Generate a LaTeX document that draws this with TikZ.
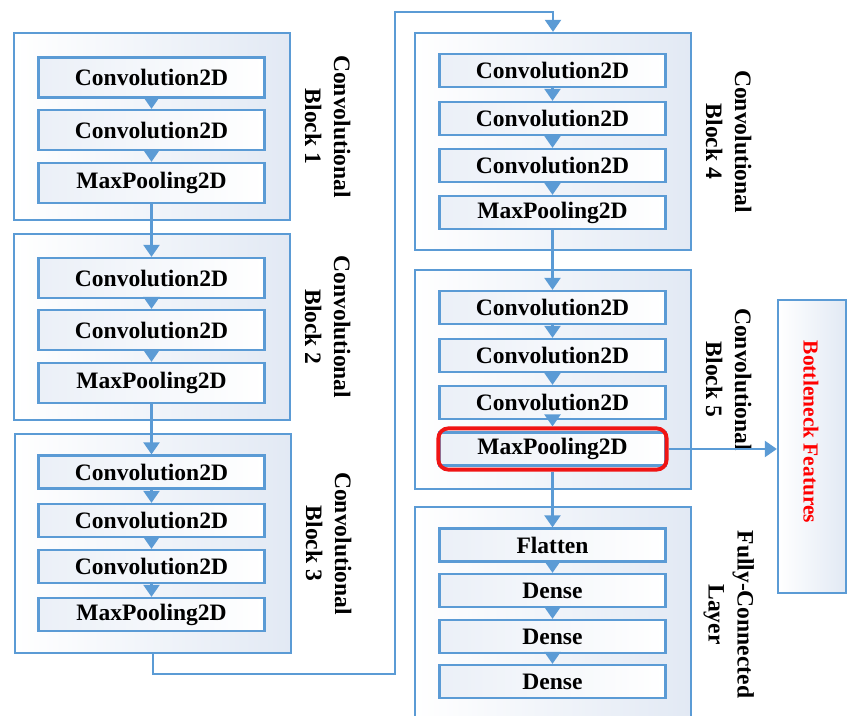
\documentclass[tikz,border=0pt]{standalone}
\usepackage{fontspec}
\setmainfont{Liberation Serif}
\usetikzlibrary{arrows.meta,positioning,fit}
\definecolor{lnBlue}{RGB}{91,155,213}
\definecolor{bgBlue}{RGB}{226,233,244}
\definecolor{hlRed}{RGB}{240,20,20}

\begin{document}
\begin{tikzpicture}[x=0.02cm,y=-0.02cm,font=\fontsize{13.4}{16.5}\selectfont\bfseries,
  blk/.style={draw=lnBlue,line width=1.3pt,left color=white,right color=bgBlue,inner sep=0pt},
  lyr/.style={draw=lnBlue,line width=1.3pt,left color=bgBlue!70,right color=white,minimum width=4.52cm,minimum height=0.66cm,inner sep=0pt},
  lbl/.style={rotate=-90,align=center},
  flow/.style={draw=lnBlue,line width=1.3pt,-{Triangle[width=0.32cm,length=0.24cm]}}]
  \useasboundingbox (0,0) rectangle (849,716);
  % outer blocks
  \node[blk,fit={(14,33)(290,220)}] (B1) {};
  \node[blk,fit={(14,234)(290,420)}] (B2) {};
  \node[blk,fit={(15,434)(291,653)}] (B3) {};
  \node[blk,fit={(415,33)(691,250)}] (B4) {};
  \node[blk,fit={(415,270)(691,489)}] (B5) {};
  \node[blk,fit={(415,507)(691,722)}] (FC) {};
  \node[blk,fit={(778,300)(846,593)}] (BN) {};
  % block labels
  \node[lbl,right=7.3mm of B1.east,anchor=center] (L1) {Convolutional\\Block 1};
  \node[lbl,right=7.3mm of B2.east,anchor=center] (L2) {Convolutional\\Block 2};
  \node[lbl,right=7.3mm of B3.east,anchor=center] (L3) {Convolutional\\Block 3};
  \node[lbl,right=7.3mm of B4.east,anchor=center] (L4) {Convolutional\\Block 4};
  \node[lbl,right=7.3mm of B5.east,anchor=center] (L5) {Convolutional\\Block 5};
  \node[lbl,right=7.3mm of FC.east,anchor=center] (L6) {Fully-Connected\\Layer};
  \node[lbl,text=red,font=\fontsize{12.2}{14}\selectfont\bfseries] (bnTxt) at (811,432) {Bottleneck Features};
  % left column
  \node[lyr,minimum height=0.8cm] (c11) at (151.5,77.5) {Convolution2D};
  \node[lyr,minimum height=0.8cm] (c12) at (151.5,130) {Convolution2D};
  \node[lyr,minimum height=0.8cm] (c13) at (151.5,183) {MaxPooling2D};
  \node[lyr,minimum height=0.8cm] (c21) at (151.5,278) {Convolution2D};
  \node[lyr,minimum height=0.8cm] (c22) at (151.5,330) {Convolution2D};
  \node[lyr,minimum height=0.8cm] (c23) at (151.5,383) {MaxPooling2D};
  \node[lyr] (c31) at (151.5,472) {Convolution2D};
  \node[lyr] (c32) at (151.5,520.5) {Convolution2D};
  \node[lyr] (c33) at (151.5,566.5) {Convolution2D};
  \node[lyr] (c34) at (151.5,614.5) {MaxPooling2D};
  % right column
  \node[lyr] (c41) at (552.5,70.5) {Convolution2D};
  \node[lyr] (c42) at (552.5,118.5) {Convolution2D};
  \node[lyr] (c43) at (552.5,165.5) {Convolution2D};
  \node[lyr] (c44) at (552.5,212.5) {MaxPooling2D};
  \node[lyr] (c51) at (552.5,307.5) {Convolution2D};
  \node[lyr] (c52) at (552.5,355.5) {Convolution2D};
  \node[lyr] (c53) at (552.5,402.5) {Convolution2D};
  \node[lyr] (c54) at (552.5,449) {MaxPooling2D};
  \node[lyr] (f1) at (552.5,545) {Flatten};
  \node[lyr] (f2) at (552.5,590.5) {Dense};
  \node[lyr] (f3) at (552.5,636.5) {Dense};
  \node[lyr] (f4) at (552.5,681.5) {Dense};
  \node[draw=hlRed,line width=2.2pt,rounded corners=0.2cm,fit=(c54),inner xsep=0pt,inner ysep=0.06cm] (hl) {};
  % connections
  \draw[flow] (c11) -- (c12);
  \draw[flow] (c12) -- (c13);
  \draw[flow] (c13) -- (c21);
  \draw[flow] (c21) -- (c22);
  \draw[flow] (c22) -- (c23);
  \draw[flow] (c23) -- (c31);
  \draw[flow] (c31) -- (c32);
  \draw[flow] (c32) -- (c33);
  \draw[flow] (c33) -- (c34);
  \coordinate (turnA) at (395,674);
  \coordinate (turnB) at (395,12);
  \draw[flow] (B3.south) |- (turnA) -- (turnB) -| (B4.north);
  \draw[flow] (c41) -- (c42);
  \draw[flow] (c42) -- (c43);
  \draw[flow] (c43) -- (c44);
  \draw[flow] (c44) -- (c51);
  \draw[flow] (c51) -- (c52);
  \draw[flow] (c52) -- (c53);
  \draw[flow] (c53) -- (hl);
  \draw[flow] (hl) -- (f1);
  \draw[flow] (f1) -- (f2);
  \draw[flow] (f2) -- (f3);
  \draw[flow] (f3) -- (f4);
  \draw[flow] (hl.east) -- (hl.east -| BN.west);
\end{tikzpicture}
\end{document}
